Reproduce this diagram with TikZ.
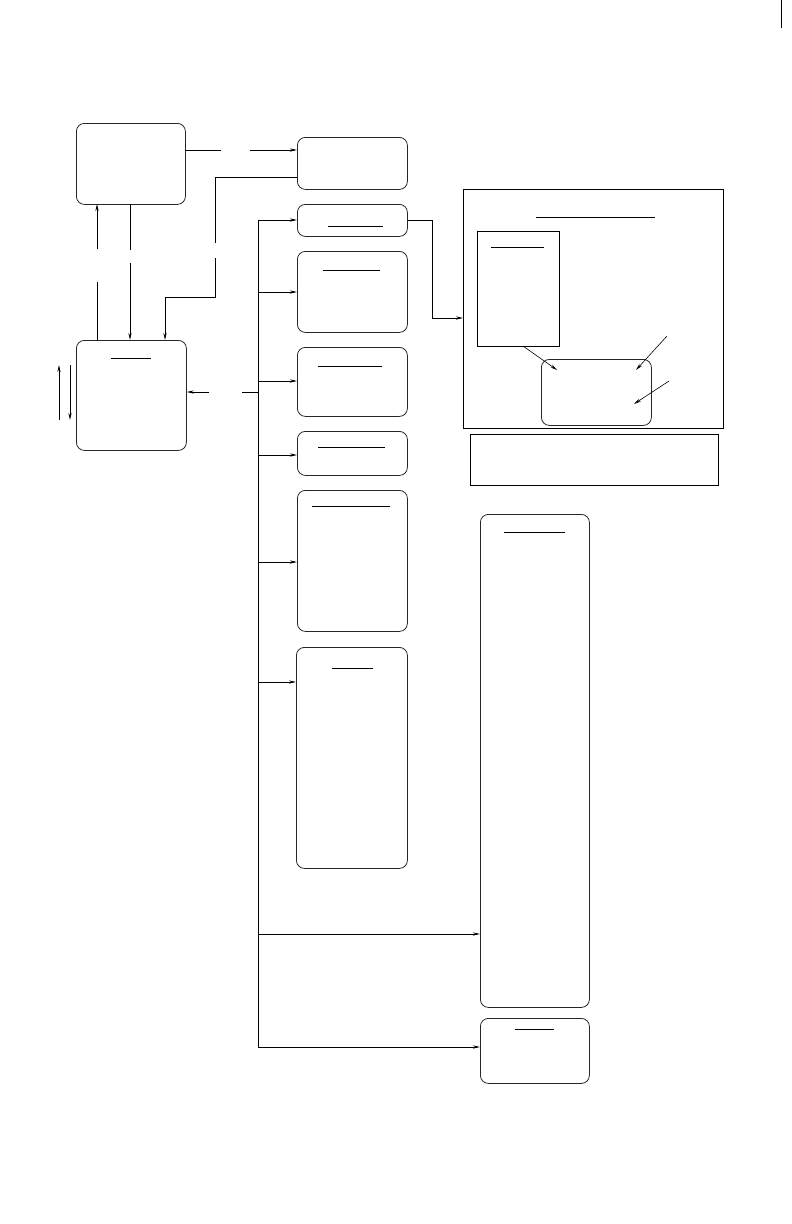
\documentclass[tikz,border=0pt]{standalone}
\usetikzlibrary{arrows.meta}
\begin{document}
\begin{tikzpicture}[x=1pt,y=-1pt,
  rbox/.style={draw=black!85,line width=0.8pt,rounded corners=8pt,inner sep=0pt},
  sbox/.style={draw=black,line width=0.9pt,inner sep=0pt},
  ul/.style={line width=0.8pt},
  conn/.style={line width=0.8pt},
  arr/.style={line width=0.8pt,-{Stealth[length=7pt,width=3.2pt]}}]
\useasboundingbox (0,0) rectangle (792,1224);
\newcommand{\bx}[6]{\node[#2,minimum width=#5-#3,minimum height=#6-#4,anchor=north west] (#1) at (#3,#4) {};}
% boxes
\bx{A}{rbox}{76}{123}{185}{204}
\bx{B}{rbox}{76}{340}{186}{450}
\bx{C1}{rbox}{297}{137}{407}{189}
\bx{C2}{rbox}{297}{204}{407}{236}
\bx{C3}{rbox}{297}{251}{407}{332}
\bx{C4}{rbox}{297}{347}{407}{416}
\bx{C5}{rbox}{297}{431}{407}{475}
\bx{C6}{rbox}{297}{490}{407}{631}
\bx{C7}{rbox}{296}{647}{407}{868}
\bx{F}{sbox}{463}{189}{723}{428}
\bx{FI}{sbox}{477}{231}{559}{346}
\bx{FR}{rbox}{541}{359}{651}{425}
\bx{N}{sbox}{470}{434}{718}{485}
\bx{D1}{rbox}{480}{514}{589}{1007}
\bx{D2}{rbox}{480}{1018}{589}{1083}
% page edge mark
\draw[line width=0.8pt] (781,0) -- (781,28);
% underlines
\draw[ul] (111,358) -- (151,358);
\draw[ul] (328,226) -- (383,226);
\draw[ul] (323,270) -- (380,270);
\draw[ul] (318,366) -- (382,366);
\draw[ul] (318,447) -- (385,447);
\draw[ul] (312,506) -- (390,506);
\draw[ul] (332,668) -- (373,668);
\draw[ul] (536,217) -- (655,217);
\draw[ul] (491,247) -- (544,247);
\draw[ul] (504,532) -- (565,532);
\draw[ul] (515,1029) -- (554,1029);
% A -> C1
\coordinate (a1) at (221,150);
\coordinate (a2) at (250,150);
\draw[conn] (A.east |- a1) -- (a1);
\draw[arr] (a2) -- (C1.west |- a2);
% C1 -> B
\coordinate (b1) at (215,243);
\coordinate (b2) at (215,258);
\draw[conn] (C1.west |- 0,177) -- (215,177) -- (b1);
\draw[arr] (b2) -- (215,297) -- (165,297) -- (165,340);
% A down to B
\draw[conn] (130,204) -- (130,250);
\draw[arr] (130,263) -- (130,340);
% B up to A
\draw[conn] (97,340) -- (97,282);
\draw[arr] (97,249) -- (97,204);
% side arrows
\draw[arr] (59,420) -- (59,365);
\draw[arr] (70,365) -- (70,420);
% bus
\coordinate (bt) at (258,220);
\coordinate (bb) at (258,1047);
\draw[conn] (bb) -- (bt);
\draw[arr] (bt) -- (C2.west |- bt);
\draw[arr] (258,292) -- (C3.west |- 0,292);
\draw[arr] (258,381) -- (C4.west |- 0,381);
\draw[arr] (258,455) -- (C5.west |- 0,455);
\draw[arr] (258,562) -- (C6.west |- 0,562);
\draw[arr] (258,682) -- (C7.west |- 0,682);
\draw[arr] (258,934) -- (D1.west |- 0,934);
\draw[arr] (bb) -- (D2.west |- bb);
% bus -> B
\draw[conn] (258,392) -- (242,392);
\draw[arr] (209,392) -- (B.east |- 0,392);
% C2 -> frame
\draw[arr] (C2.east |- 0,220) -- (432,220) -- (432,318) -- (F.west |- 0,318);
% inner arrows
\draw[arr,line width=0.6pt] (523,346) -- (557,370);
\draw[arr,line width=0.6pt] (667,336) -- (636,370);
\draw[arr,line width=0.6pt] (669,381) -- (634,404);
\end{tikzpicture}
\end{document}
